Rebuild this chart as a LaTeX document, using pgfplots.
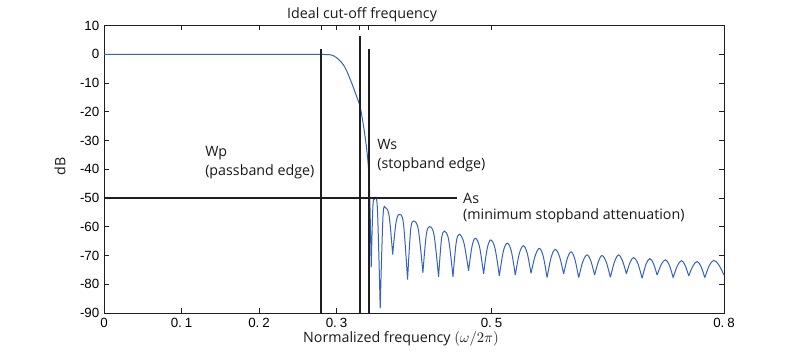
\documentclass[border=0pt]{standalone}
\usepackage{fontspec}
\setmainfont{Open Sans}
\newfontfamily\tickfont{Liberation Sans}
\usepackage{pgfplots}
\pgfplotsset{compat=1.18}
\definecolor{curve}{RGB}{52,98,190}
\definecolor{lin}{RGB}{30,30,30}
\begin{document}
\begin{tikzpicture}
\path[use as bounding box] (0,0) rectangle (600pt,263.25pt);
\begin{axis}[
  at={(78pt,28.5pt)}, anchor=south west,
  scale only axis, width=465pt, height=215.6pt,
  xmin=0, xmax=0.8, ymin=-90, ymax=10,
  xtick={0,0.1,0.2,0.2802,0.3,0.3297,0.3413,0.5,0.8},
  xticklabels={0,0.\hspace{0.22em}1,0.\hspace{0.22em}2,,0.\hspace{0.22em}3,,,0.\hspace{0.22em}5,0.\hspace{0.22em}8},
  ytick={-90,-80,-70,-60,-50,-40,-30,-20,-10,0,10},
  yticklabels={-90,-80,-70,-60,-50,-40,-30,-20,-10,0,10},
  tick align=inside,
  major tick length=3.5pt,
  tick style={lin, line width=0.6pt},
  tick label style={font=\tickfont\fontsize{10}{12}\selectfont, text=black},
  axis line style={lin, line width=0.7pt},
  clip=false,
  unbounded coords=jump,
]
\addplot[curve, line width=0.75pt, smooth, tension=0.55] coordinates {
(0,0) (0.15,0) (0.25,0) (0.28,-0.05) (0.296,-0.5) (0.309,-3.7) (0.318,-8.9) (0.326,-14.7) (0.330,-17.6) (0.335,-25.2) (0.340,-35.6) (0.3426,-47.1) (0.3448,-74.1)
(0.3448,nan)
(0.3448,-74.1) (0.3469,-53.4) (0.3490,-50.4) (0.3527,-53.4) (0.3564,-88.4)
(0.3564,nan)
(0.3564,-88.4) (0.3600,-56.4) (0.3635,-53.4) (0.3680,-56.4) (0.3725,-69.7)
(0.3725,nan)
(0.3725,-69.7) (0.3767,-58.7) (0.3809,-55.7) (0.3863,-58.7) (0.3917,-78.4)
(0.3917,nan)
(0.3917,-78.4) (0.3957,-61) (0.3997,-58) (0.4056,-61) (0.4115,-76)
(0.4115,nan)
(0.4115,-76) (0.4158,-62.9) (0.4201,-59.9) (0.4259,-62.9) (0.4317,-77.4)
(0.4317,nan)
(0.4317,-77.4) (0.4354,-64.5) (0.4391,-61.5) (0.4447,-64.5) (0.4503,-77.4)
(0.4503,nan)
(0.4503,-77.4) (0.4544,-65.6) (0.4584,-62.6) (0.4644,-65.6) (0.4704,-75.3)
(0.4704,nan)
(0.4704,-75.3) (0.4748,-66.9) (0.4791,-64) (0.4845,-66.9) (0.4898,-76.4)
(0.4898,nan)
(0.4898,-76.4) (0.4945,-67.5) (0.4991,-64.6) (0.5046,-67.6) (0.5101,-77.1)
(0.5101,nan)
(0.5101,-77.1) (0.5153,-68.5) (0.5204,-65.7) (0.5256,-68.5) (0.5307,-76.8)
(0.5307,nan)
(0.5307,-76.8) (0.5359,-69.3) (0.5411,-66.6) (0.5461,-69.2) (0.5510,-76.2)
(0.5510,nan)
(0.5510,-76.2) (0.5564,-70.1) (0.5617,-67.5) (0.5667,-70.2) (0.5717,-77.7)
(0.5717,nan)
(0.5717,-77.7) (0.5771,-70.5) (0.5824,-67.9) (0.5878,-70.4) (0.5931,-76.4)
(0.5931,nan)
(0.5931,-76.4) (0.5979,-71) (0.6027,-68.7) (0.6076,-71.3) (0.6125,-77.7)
(0.6125,nan)
(0.6125,-77.7) (0.6179,-72.1) (0.6233,-69.8) (0.6282,-71.9) (0.6331,-76.8)
(0.6331,nan)
(0.6331,-76.8) (0.6379,-72.1) (0.6427,-70) (0.6481,-72.3) (0.6534,-77.6)
(0.6534,nan)
(0.6534,-77.6) (0.6588,-72.1) (0.6641,-69.8) (0.6691,-71.9) (0.6741,-76.4)
(0.6741,nan)
(0.6741,-76.4) (0.6788,-72.4) (0.6835,-70.7) (0.6889,-72.8) (0.6943,-77.9)
(0.6943,nan)
(0.6943,-77.9) (0.6993,-73.1) (0.7042,-71.1) (0.7090,-72.8) (0.7137,-76.8)
(0.7137,nan)
(0.7137,-76.8) (0.7191,-73.1) (0.7244,-71.5) (0.7294,-73.3) (0.7344,-77.7)
(0.7344,nan)
(0.7344,-77.7) (0.7398,-73.6) (0.7451,-71.8) (0.7498,-73.4) (0.7545,-77.1)
(0.7545,nan)
(0.7545,-77.1) (0.7600,-73.6) (0.7654,-72.1) (0.7703,-73.8) (0.7752,-77.7)
(0.7752,nan)
(0.7752,-77.7) (0.7810,-73.5) (0.7868,-71.7) (0.7934,-73.3) (0.8,-76.8)
};
\addplot[lin, line width=1.5pt] coordinates {(0.2802,-90) (0.2802,1.7)};
\addplot[lin, line width=1.5pt] coordinates {(0.3297,-90) (0.3297,6.4)};
\addplot[lin, line width=1.5pt] coordinates {(0.3413,-90) (0.3413,1.7)};
\addplot[lin, line width=1.5pt] coordinates {(0,-50) (0.455,-50)};
\tikzset{lab/.style={font=\fontsize{10.7}{13}\selectfont, inner sep=0pt, text=black!90}}
\node[lab, anchor=base] at (axis cs:0.333,12.3) {Ideal cut-off frequency};
\node[lab, anchor=base west] at (axis cs:0.1303,-35.7) {Wp};
\node[lab, anchor=base west] at (axis cs:0.1303,-42.3) {(passband edge)};
\node[lab, anchor=base west] at (axis cs:0.3523,-33.0) {Ws};
\node[lab, anchor=base west] at (axis cs:0.3523,-39.6) {(stopband edge)};
\node[lab, anchor=west] at (axis cs:0.4632,-50) {As};
\node[lab, anchor=base west] at (axis cs:0.4632,-57.6) {(minimum stopband attenuation)};
\node[lab, anchor=base] at (axis cs:0.3832,-100.4) {Normalized frequency $(\omega/2\pi)$};
\node[lab, anchor=center, rotate=90] at (axis cs:-0.0568,-39) {dB};
\end{axis}
\end{tikzpicture}
\end{document}
